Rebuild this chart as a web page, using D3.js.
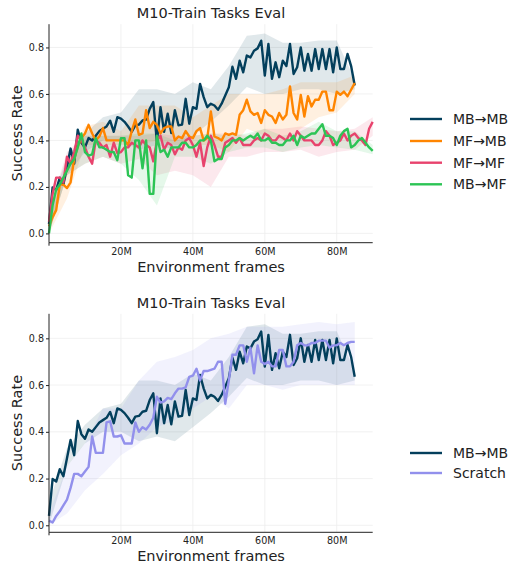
<!DOCTYPE html>
<html><head><meta charset="utf-8">
<script src="https://cdn.jsdelivr.net/npm/d3@7/dist/d3.min.js"></script>
<style>body{margin:0;background:#fff}svg{display:block;font-family:"DejaVu Sans",sans-serif}</style>
</head><body>
<script>
// ---- data ----
const xTicks = [20, 40, 60, 80];
const xTickLabels = ["20M", "40M", "60M", "80M"];
const yTicks = [0, 0.2, 0.4, 0.6, 0.8];
const yTickLabels = ["0.0", "0.2", "0.4", "0.6", "0.8"];
const seriesNames = ["MB\u2192MB", "MF\u2192MB", "MF\u2192MF", "MB\u2192MF", "Scratch"];
const seriesColors = ["#033f5c", "#ff8500", "#e8436d", "#2cc455", "#9290ec"];

const mbmb = [0.04,0.198,0.187,0.24,0.21,0.287,0.365,0.30,0.446,0.39,0.37,0.41,0.40,0.42,0.44,0.45,0.46,0.485,0.437,0.50,0.494,0.48,0.46,0.437,0.465,0.468,0.486,0.49,0.536,0.565,0.394,0.543,0.437,0.515,0.432,0.53,0.465,0.468,0.579,0.472,0.543,0.536,0.643,0.586,0.543,0.558,0.55,0.532,0.558,0.593,0.629,0.717,0.665,0.743,0.693,0.765,0.757,0.786,0.796,0.829,0.679,0.815,0.665,0.736,0.672,0.743,0.72,0.815,0.686,0.715,0.80,0.70,0.772,0.70,0.793,0.707,0.793,0.707,0.793,0.693,0.80,0.707,0.707,0.772,0.72,0.636];
const mfmb = [0.03,0.07,0.10,0.21,0.21,0.195,0.22,0.32,0.375,0.41,0.43,0.467,0.43,0.40,0.417,0.453,0.40,0.40,0.40,0.40,0.40,0.40,0.38,0.44,0.49,0.424,0.43,0.53,0.453,0.48,0.467,0.43,0.453,0.46,0.46,0.40,0.417,0.41,0.44,0.417,0.41,0.44,0.453,0.40,0.41,0.525,0.417,0.41,0.40,0.43,0.424,0.43,0.424,0.51,0.53,0.575,0.525,0.51,0.518,0.475,0.53,0.51,0.503,0.475,0.518,0.49,0.51,0.632,0.518,0.49,0.596,0.503,0.59,0.546,0.575,0.575,0.61,0.61,0.53,0.53,0.61,0.596,0.61,0.59,0.618,0.647];
const mfmf = [0.05,0.17,0.24,0.24,0.22,0.33,0.30,0.35,0.42,0.40,0.37,0.33,0.30,0.40,0.39,0.37,0.38,0.33,0.39,0.345,0.35,0.37,0.37,0.39,0.38,0.37,0.40,0.38,0.37,0.31,0.40,0.42,0.36,0.39,0.38,0.34,0.37,0.36,0.40,0.41,0.38,0.33,0.39,0.29,0.37,0.42,0.38,0.33,0.33,0.39,0.40,0.41,0.39,0.41,0.38,0.38,0.38,0.40,0.41,0.40,0.43,0.42,0.40,0.40,0.42,0.41,0.40,0.43,0.40,0.44,0.42,0.40,0.40,0.40,0.38,0.38,0.40,0.44,0.42,0.38,0.39,0.40,0.43,0.40,0.42,0.43,0.41,0.40,0.38,0.45,0.48];
const mbmf = [0.0,0.12,0.19,0.21,0.24,0.27,0.30,0.32,0.37,0.43,0.35,0.335,0.34,0.41,0.37,0.37,0.36,0.35,0.35,0.315,0.41,0.41,0.25,0.24,0.40,0.40,0.28,0.40,0.17,0.17,0.42,0.35,0.36,0.33,0.37,0.37,0.37,0.39,0.39,0.37,0.37,0.38,0.40,0.40,0.42,0.40,0.31,0.32,0.32,0.37,0.38,0.40,0.40,0.41,0.40,0.41,0.42,0.41,0.43,0.40,0.40,0.41,0.39,0.39,0.38,0.38,0.40,0.40,0.42,0.38,0.42,0.41,0.42,0.43,0.43,0.45,0.47,0.42,0.42,0.41,0.38,0.42,0.44,0.45,0.37,0.38,0.40,0.41,0.39,0.37,0.355];
const scratch = [0.02,0.012,0.04,0.06,0.085,0.11,0.16,0.22,0.22,0.21,0.23,0.25,0.38,0.31,0.31,0.31,0.44,0.445,0.38,0.38,0.385,0.35,0.35,0.35,0.44,0.40,0.42,0.41,0.43,0.46,0.55,0.525,0.53,0.545,0.54,0.565,0.585,0.585,0.59,0.635,0.64,0.67,0.62,0.66,0.66,0.665,0.67,0.70,0.70,0.52,0.62,0.73,0.73,0.77,0.77,0.70,0.76,0.65,0.77,0.70,0.69,0.70,0.68,0.68,0.75,0.75,0.68,0.68,0.70,0.77,0.78,0.77,0.77,0.78,0.78,0.79,0.79,0.79,0.76,0.77,0.77,0.78,0.77,0.78,0.785,0.785];

// shaded spread bands, sampled every 5M frames
const bandX = [0,5,10,15,20,25,30,35,40,45,50,55,60,65,70,75,80,85,90];
const mbmbLo = [0.0,0.25,0.35,0.40,0.40,0.36,0.38,0.36,0.42,0.48,0.55,0.63,0.60,0.60,0.62,0.62,0.60,0.62];
const mbmbHi = [0.10,0.33,0.43,0.50,0.52,0.62,0.62,0.60,0.65,0.62,0.72,0.85,0.86,0.82,0.82,0.83,0.83,0.66];
const mfmbLo = [0.0,0.15,0.38,0.38,0.38,0.38,0.40,0.38,0.38,0.38,0.35,0.45,0.42,0.40,0.45,0.50,0.52,0.60];
const mfmbHi = [0.10,0.30,0.46,0.48,0.44,0.55,0.55,0.55,0.50,0.55,0.60,0.60,0.60,0.62,0.65,0.65,0.65,0.68];
const mfmfLo = [0.0,0.25,0.30,0.33,0.30,0.32,0.25,0.27,0.25,0.20,0.33,0.33,0.35,0.35,0.36,0.33,0.35,0.36,0.42];
const mfmfHi = [0.10,0.35,0.42,0.42,0.42,0.42,0.43,0.42,0.42,0.43,0.43,0.42,0.45,0.45,0.46,0.45,0.44,0.45,0.50];
const mbmfLo = [0.0,0.25,0.30,0.33,0.30,0.23,0.12,0.33,0.33,0.30,0.35,0.37,0.37,0.35,0.37,0.38,0.37,0.36,0.34];
const mbmfHi = [0.05,0.30,0.42,0.42,0.42,0.43,0.43,0.40,0.42,0.43,0.42,0.43,0.45,0.42,0.44,0.48,0.44,0.44,0.38];
const scratchLo = [0.0,0.05,0.15,0.22,0.30,0.35,0.42,0.45,0.50,0.55,0.50,0.60,0.60,0.58,0.60,0.60,0.60,0.60];
const scratchHi = [0.05,0.25,0.35,0.50,0.50,0.62,0.70,0.72,0.75,0.80,0.82,0.85,0.85,0.85,0.86,0.87,0.86,0.87];

// ---- drawing ----
const W = 511, H = 565;
const svg = d3.select("body").append("svg").attr("width", W).attr("height", H);

function panel(cfg) {
  const x = d3.scaleLinear().domain([0, 90]).range([49, 372.7]);
  const y = d3.scaleLinear().domain(cfg.yDomain).range(cfg.yRange);
  const g = svg.append("g");
  // grid
  g.selectAll(".gy").data(yTicks).join("line")
    .attr("x1", x(0)).attr("x2", x(90)).attr("y1", d => y(d)).attr("y2", d => y(d))
    .attr("stroke", "#ededed").attr("stroke-width", 0.8);
  g.selectAll(".gx").data(xTicks).join("line")
    .attr("x1", d => x(d)).attr("x2", d => x(d)).attr("y1", cfg.yRange[0]).attr("y2", cfg.yRange[1])
    .attr("stroke", "#ededed").attr("stroke-width", 0.8);
  // bands
  cfg.series.forEach(s => {
    const pts = s.lo.map((v, i) => ({ x: bandX[i], lo: v, hi: s.hi[i] }));
    g.append("path").datum(pts)
      .attr("d", d3.area().x(d => x(d.x)).y0(d => y(d.lo)).y1(d => y(d.hi)))
      .attr("fill", s.color).attr("fill-opacity", 0.12);
  });
  // lines
  cfg.series.forEach(s => {
    g.append("path").datum(s.values)
      .attr("d", d3.line().x((d, i) => x(i)).y(d => y(d)))
      .attr("fill", "none").attr("stroke", s.color).attr("stroke-width", 2.4)
      .attr("stroke-linejoin", "round");
  });
  // axes
  const yAxis = d3.axisLeft(y).tickValues(yTicks).tickFormat((d, i) => yTickLabels[i]).tickSize(3).tickPadding(2);
  const ya = g.append("g").attr("transform", `translate(${x(0)},0)`).call(yAxis);
  ya.select(".domain").remove();
  ya.selectAll("text").attr("font-size", 9.6).attr("fill", "#222").attr("font-family", "DejaVu Sans");
  ya.selectAll("line").attr("stroke", "#222");
  g.append("line").attr("x1", x(0)).attr("x2", x(0)).attr("y1", cfg.yRange[0]).attr("y2", cfg.yRange[1])
    .attr("stroke", "#222").attr("stroke-width", 1);
  const xAxis = d3.axisBottom(x).tickValues(xTicks).tickFormat((d, i) => xTickLabels[i]).tickSize(0).tickPadding(5);
  const xa = g.append("g").attr("transform", `translate(0,${cfg.yRange[0]})`).call(xAxis);
  xa.select(".domain").remove();
  xa.selectAll("text").attr("font-size", 9.6).attr("fill", "#222").attr("font-family", "DejaVu Sans");
  g.append("line").attr("x1", x(0)).attr("x2", x(90)).attr("y1", cfg.yRange[0]).attr("y2", cfg.yRange[0])
    .attr("stroke", "#222").attr("stroke-width", 1);
  g.append("line").attr("x1", x(0)).attr("x2", x(0)).attr("y1", cfg.yRange[0]).attr("y2", cfg.yRange[0] + 3)
    .attr("stroke", "#222").attr("stroke-width", 1);
  // labels
  g.append("text").attr("x", 211).attr("y", cfg.titleY).attr("text-anchor", "middle")
    .attr("font-size", 14.5).attr("fill", "#222").text("M10-Train Tasks Eval");
  g.append("text").attr("x", 211).attr("y", cfg.yRange[0] + 29).attr("text-anchor", "middle")
    .attr("font-size", 14.5).attr("fill", "#222").text("Environment frames");
  const yc = (cfg.yRange[0] + cfg.yRange[1]) / 2;
  g.append("text").attr("transform", `translate(22,${yc}) rotate(-90)`).attr("text-anchor", "middle")
    .attr("font-size", 14.5).attr("fill", "#222").text("Success Rate");
  // legend
  cfg.series.forEach((s, i) => {
    const ly = cfg.legendY[i];
    g.append("line").attr("x1", 410).attr("x2", 442).attr("y1", ly).attr("y2", ly)
      .attr("stroke", s.color).attr("stroke-width", 2.4);
    g.append("text").attr("x", 453).attr("y", ly + 5).attr("font-size", 14).attr("fill", "#222").text(s.name);
  });
}

panel({
  yDomain: [-0.04, 0.9], yRange: [242.7, 24.2], titleY: 18,
  legendY: [119, 141, 162.7, 184.3],
  series: [
    { name: seriesNames[0], color: seriesColors[0], values: mbmb, lo: mbmbLo, hi: mbmbHi },
    { name: seriesNames[1], color: seriesColors[1], values: mfmb, lo: mfmbLo, hi: mfmbHi },
    { name: seriesNames[2], color: seriesColors[2], values: mfmf, lo: mfmfLo, hi: mfmfHi },
    { name: seriesNames[3], color: seriesColors[3], values: mbmf, lo: mbmfLo, hi: mbmfHi }
  ]
});

panel({
  yDomain: [-0.03, 0.905], yRange: [532.3, 313.8], titleY: 308,
  legendY: [453, 473],
  series: [
    { name: seriesNames[0], color: seriesColors[0], values: mbmb, lo: mbmbLo, hi: mbmbHi },
    { name: seriesNames[4], color: seriesColors[4], values: scratch, lo: scratchLo, hi: scratchHi }
  ]
});
</script>
</body></html>
